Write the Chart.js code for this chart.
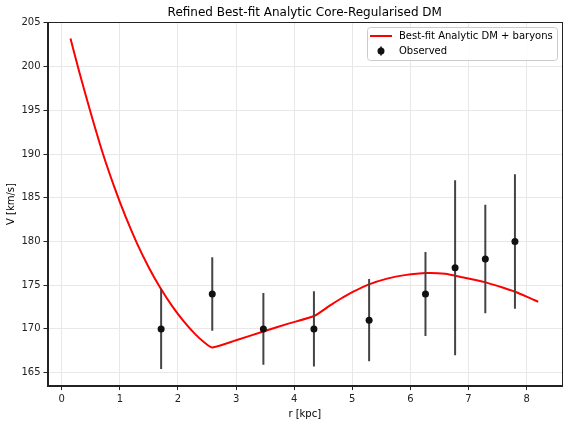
<!DOCTYPE html>
<html>
<head>
<meta charset="utf-8">
<script src="https://cdn.jsdelivr.net/npm/chart.js@4.4.1/dist/chart.umd.min.js"></script>
<style>
  html, body { margin: 0; padding: 0; background: #fff; }
  #wrap { width: 568px; height: 424px; }
</style>
</head>
<body>
<div id="wrap"><canvas id="chart" width="568" height="424"></canvas></div>
<script>
  // observed rotation curve
  var rObs = [1.71, 2.59, 3.47, 4.34, 5.29, 6.26, 6.77, 7.29, 7.80];
  var vObs = [170, 174, 170, 170, 171, 174, 177, 178, 180];
  var vErr = [4.6, 4.2, 4.1, 4.3, 4.7, 4.8, 10.0, 6.2, 7.7];

  // best-fit model curve
  var rFit = [0.15, 0.3, 0.485, 0.7, 0.9, 1.1, 1.3, 1.5, 1.7, 1.9, 2.1, 2.3, 2.45, 2.59,
              3.0, 3.47, 3.9, 4.35, 4.62, 4.8, 5.0, 5.29, 5.6, 5.9, 6.28, 6.6, 6.9,
              7.28, 7.6, 7.8, 8.0, 8.2];
  var vFit = [203.2, 199.4, 195.0, 190.2, 186.3, 182.8, 179.7, 177.0, 174.64, 172.6, 170.85, 169.37, 168.48, 167.88,
              168.7, 169.7, 170.6, 171.5, 172.7, 173.45, 174.2, 175.1, 175.75, 176.15, 176.4, 176.3, 175.9,
              175.35, 174.7, 174.25, 173.7, 173.1];

  var xTicks = [0, 1, 2, 3, 4, 5, 6, 7, 8];
  var yTicks = [165, 170, 175, 180, 185, 190, 195, 200, 205];

  var FONT = "'DejaVu Sans', sans-serif";

  function pts(xs, ys) {
    return xs.map(function (x, i) { return { x: x, y: ys[i] }; });
  }

  function errSegments() {
    var out = [];
    rObs.forEach(function (r, i) {
      out.push({ x: r, y: vObs[i] - vErr[i] });
      out.push({ x: r, y: vObs[i] + vErr[i] });
      out.push({ x: r, y: null });
    });
    return out;
  }

  var framePlugin = {
    id: 'frame',
    afterDraw: function (chart) {
      var ctx = chart.ctx, a = chart.chartArea;
      ctx.save();
      // axes box
      ctx.strokeStyle = '#222';
      ctx.lineWidth = 1;
      ctx.strokeRect(Math.round(a.left) + 0.5, Math.round(a.top) + 0.5,
        Math.round(a.right - a.left) - 1, Math.round(a.bottom - a.top) - 1);

      // legend
      var lx = 367.5, ly = 27.5, lw = 190, lh = 33;
      ctx.beginPath();
      ctx.roundRect(lx, ly, lw, lh, 3);
      ctx.fillStyle = 'rgba(255,255,255,0.8)';
      ctx.fill();
      ctx.strokeStyle = '#cccccc';
      ctx.stroke();

      ctx.strokeStyle = '#ff0000';
      ctx.lineWidth = 2;
      ctx.beginPath();
      ctx.moveTo(370, 36); ctx.lineTo(392, 36);
      ctx.stroke();

      ctx.strokeStyle = '#444';
      ctx.lineWidth = 2;
      ctx.beginPath();
      ctx.moveTo(381, 46.5); ctx.lineTo(381, 55.5);
      ctx.stroke();
      ctx.fillStyle = '#111';
      ctx.beginPath();
      ctx.arc(381, 51, 3.5, 0, Math.PI * 2);
      ctx.fill();

      ctx.fillStyle = '#000';
      ctx.font = '10px ' + FONT;
      ctx.textBaseline = 'middle';
      ctx.textAlign = 'left';
      ctx.fillText('Best-fit Analytic DM + baryons', 399, 36);
      ctx.fillText('Observed', 399, 51);
      ctx.restore();
    }
  };

  new Chart(document.getElementById('chart'), {
    type: 'scatter',
    data: {
      datasets: [
        {
          label: 'Observed',
          data: pts(rObs, vObs),
          pointRadius: 3.5,
          pointHoverRadius: 3.5,
          pointBackgroundColor: '#111',
          pointBorderWidth: 0,
          showLine: false
        },
        {
          label: 'errors',
          data: errSegments(),
          showLine: true,
          spanGaps: false,
          pointRadius: 0,
          borderColor: '#444',
          borderWidth: 2
        },
        {
          label: 'Best-fit Analytic DM + baryons',
          data: pts(rFit, vFit),
          showLine: true,
          pointRadius: 0,
          borderColor: '#ff0000',
          borderWidth: 2,
          tension: 0.2
        }
      ]
    },
    options: {
      responsive: false,
      animation: false,
      layout: { padding: { left: 0, right: 6, top: 0, bottom: 0 } },
      plugins: {
        legend: { display: false },
        tooltip: { enabled: false },
        title: {
          display: true,
          fullSize: false,
          text: 'Refined Best-fit Analytic Core-Regularised DM',
          color: '#000',
          font: { family: FONT, size: 12, weight: 'normal' },
          padding: { top: 6, bottom: 1.6 }
        }
      },
      scales: {
        x: {
          type: 'linear',
          min: -0.246,
          max: 8.61,
          afterBuildTicks: function (s) { s.ticks = xTicks.map(function (v) { return { value: v }; }); },
          afterFit: function (s) { s.height = 38; },
          ticks: { color: '#222', font: { family: FONT, size: 10 }, padding: 3, maxRotation: 0 },
          grid: { color: '#e8e8e8', tickColor: '#222', tickLength: 4 },
          border: { display: true, color: '#222' },
          title: { display: true, text: 'r [kpc]', color: '#000', font: { family: FONT, size: 10 }, padding: { top: 2, bottom: 4 } }
        },
        y: {
          type: 'linear',
          min: 163.47,
          max: 205.1,
          afterBuildTicks: function (s) { s.ticks = yTicks.map(function (v) { return { value: v }; }); },
          afterFit: function (s) { s.width = 47.5; },
          ticks: { color: '#222', font: { family: FONT, size: 10 }, padding: 3 },
          grid: { color: '#e8e8e8', tickColor: '#222', tickLength: 4 },
          border: { display: true, color: '#222' },
          title: { display: true, text: 'V [km/s]', color: '#000', font: { family: FONT, size: 10 }, padding: { top: 5, bottom: 2 } }
        }
      }
    },
    plugins: [framePlugin]
  });
</script>
</body>
</html>
